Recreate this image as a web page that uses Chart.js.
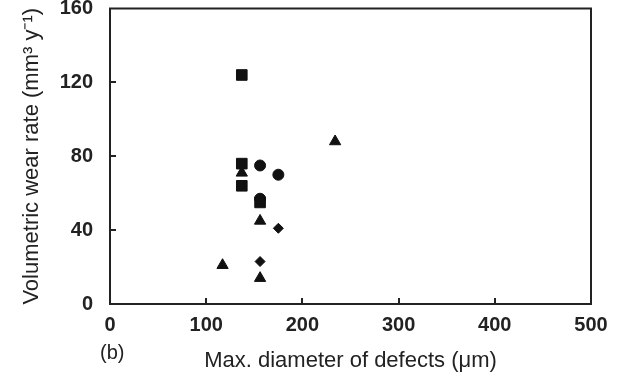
<!DOCTYPE html>
<html>
<head>
<meta charset="utf-8">
<script src="https://cdn.jsdelivr.net/npm/chart.js@4"></script>
<style>
  html, body { margin: 0; padding: 0; background: #fff; }
  #wrap { width: 621px; height: 387px; }
</style>
</head>
<body>
<div id="wrap"><canvas id="wear-chart"></canvas></div>
<script>
// data: max defect diameter (um) vs wear rate (mm^3/y)
var squareX = [137, 137, 137, 156];
var squareY = [124, 76, 64, 55];
var circleX = [156, 175, 156];
var circleY = [75, 70, 57];
var triangleX = [137, 156, 234, 117, 156];
var triangleY = [71, 45, 88, 21, 14];
var diamondX = [175, 156];
var diamondY = [41, 23];
var xTicks = [0, 100, 200, 300, 400, 500];
var yTicks = [0, 40, 80, 120, 160];

function pts(xs, ys) {
  return xs.map(function (x, i) { return { x: x, y: ys[i] }; });
}

// frame on top/right plus small inward tick marks
var framePlugin = {
  id: 'frame',
  afterDraw: function (chart) {
    var c = chart.ctx, a = chart.chartArea;
    var sx = chart.scales.x, sy = chart.scales.y;
    c.save();
    c.strokeStyle = '#222';
    c.lineWidth = 2;
    c.strokeRect(a.left, a.top, a.right - a.left, a.bottom - a.top);
    c.beginPath();
    xTicks.slice(1, -1).forEach(function (v) {
      var px = Math.round(sx.getPixelForValue(v));
      c.moveTo(px, a.bottom);
      c.lineTo(px, a.bottom - 6);
    });
    yTicks.slice(1, -1).forEach(function (v) {
      var py = Math.round(sy.getPixelForValue(v));
      c.moveTo(a.left, py);
      c.lineTo(a.left + 6, py);
    });
    c.stroke();
    c.fillStyle = '#222';
    c.font = '20px "Liberation Sans", Arial, sans-serif';
    c.textBaseline = 'middle';
    c.fillText('(b)', 100, 353);
    c.restore();
  }
};

var tickFont = { family: '"Liberation Sans", Arial, sans-serif', size: 20, weight: 'bold' };
var titleFont = { family: '"Liberation Sans", Arial, sans-serif', size: 22 };

function noPad(s) {
  s.paddingTop = 0; s.paddingBottom = 0; s.paddingLeft = 0; s.paddingRight = 0;
}

new Chart(document.getElementById('wear-chart'), {
  type: 'scatter',
  data: {
    datasets: [
      { label: 'squares', data: pts(squareX, squareY), pointStyle: 'rect', pointRadius: 7.5, backgroundColor: '#111', borderColor: '#111', borderWidth: 1 },
      { label: 'circles', data: pts(circleX, circleY), pointStyle: 'circle', pointRadius: 5.5, backgroundColor: '#111', borderColor: '#111', borderWidth: 1 },
      { label: 'triangles', data: pts(triangleX, triangleY), pointStyle: 'triangle', pointRadius: 6.5, backgroundColor: '#111', borderColor: '#111', borderWidth: 1 },
      { label: 'diamonds', data: pts(diamondX, diamondY), pointStyle: 'rectRot', pointRadius: 5, backgroundColor: '#111', borderColor: '#111', borderWidth: 1 }
    ]
  },
  options: {
    responsive: true,
    maintainAspectRatio: false,
    animation: false,
    layout: { padding: { left: 19, right: 30, top: 6, bottom: 13 } },
    plugins: { legend: { display: false }, tooltip: { enabled: false } },
    scales: {
      x: {
        type: 'linear',
        min: 0, max: 500,
        afterBuildTicks: function (s) { s.ticks = xTicks.map(function (v) { return { value: v }; }); },
        afterFit: function (s) { s.height = 70; noPad(s); },
        grid: { display: false, drawTicks: false },
        border: { display: true, color: '#222', width: 2 },
        ticks: { color: '#222', font: tickFont, padding: 9, maxRotation: 0 },
        title: { display: true, text: 'Max. diameter of defects (μm)', color: '#222', font: titleFont, padding: { top: 0, bottom: 0 } }
      },
      y: {
        type: 'linear',
        min: 0, max: 160,
        afterBuildTicks: function (s) { s.ticks = yTicks.map(function (v) { return { value: v }; }); },
        afterFit: function (s) { s.width = 91; noPad(s); },
        grid: { display: false, drawTicks: false },
        border: { display: true, color: '#222', width: 2 },
        ticks: { color: '#222', font: tickFont, padding: 17 },
        title: { display: true, text: 'Volumetric wear rate (mm³ y⁻¹)', color: '#222', font: titleFont, padding: { top: 0, bottom: 0 } }
      }
    }
  },
  plugins: [framePlugin]
});
</script>
</body>
</html>
